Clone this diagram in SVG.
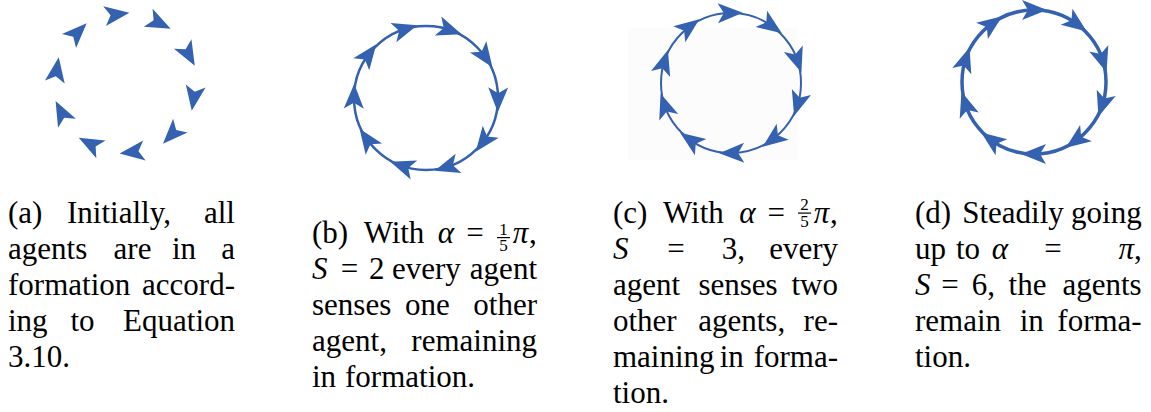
<svg xmlns="http://www.w3.org/2000/svg" width="1151" height="412" viewBox="0 0 1151 412">
<style>
.t{font-family:"Liberation Serif","DejaVu Serif","Times New Roman",serif;font-size:31px;fill:#000}
.i{font-style:italic}
.f{font-size:17px}
.m{text-anchor:middle}
.e{text-anchor:end}
.ring{fill:none;stroke:#3461B0}
.ag{fill:#3461B0}
</style>
<defs>
<path id="dart" d="M13,0 L-12,-10 L-6,0 L-12,10 Z"/>
</defs>
<rect width="1151" height="412" fill="#fff"/>

<g id="panel-a" class="ag">
<use href="#dart" transform="translate(116.5,14.5) rotate(-8)"/>
<use href="#dart" transform="translate(159,23) rotate(26)"/>
<use href="#dart" transform="translate(188.5,54.5) rotate(61)"/>
<use href="#dart" transform="translate(193.8,97.8) rotate(99)"/>
<use href="#dart" transform="translate(172,134.3) rotate(134)"/>
<use href="#dart" transform="translate(132.5,152) rotate(173)"/>
<use href="#dart" transform="translate(90.3,143.8) rotate(207.5)"/>
<use href="#dart" transform="translate(61.5,112.5) rotate(243)"/>
<use href="#dart" transform="translate(56.7,70.2) rotate(-81)"/>
<use href="#dart" transform="translate(77.5,32.5) rotate(-45)"/>
</g>

<g id="panel-b">
<circle class="ring" cx="426" cy="98" r="72" stroke-width="2.5"/>
<g class="ag">
<use href="#dart" transform="translate(498,99.3) rotate(91)"/>
<use href="#dart" transform="translate(483.5,141.3) rotate(127)"/>
<use href="#dart" transform="translate(447.1,166.9) rotate(163)"/>
<use href="#dart" transform="translate(402.6,166.1) rotate(199)"/>
<use href="#dart" transform="translate(367,139.3) rotate(235)"/>
<use href="#dart" transform="translate(354,96.7) rotate(271)"/>
<use href="#dart" transform="translate(368.5,54.7) rotate(307)"/>
<use href="#dart" transform="translate(404.9,29.1) rotate(343)"/>
<use href="#dart" transform="translate(449.4,29.9) rotate(19)"/>
<use href="#dart" transform="translate(485,56.7) rotate(55)"/>
</g>
</g>

<g id="panel-c">
<rect x="628" y="28" width="170" height="132" fill="#fcfcfc"/>
<circle class="ring" cx="731" cy="83" r="70" stroke-width="2"/>
<g class="ag">
<use href="#dart" transform="translate(729.8,13) rotate(359)"/>
<use href="#dart" transform="translate(771.2,25.7) rotate(35)"/>
<use href="#dart" transform="translate(797.2,60.2) rotate(71)"/>
<use href="#dart" transform="translate(797.9,103.5) rotate(107)"/>
<use href="#dart" transform="translate(773.1,138.9) rotate(143)"/>
<use href="#dart" transform="translate(732.2,153) rotate(179)"/>
<use href="#dart" transform="translate(690.8,140.3) rotate(215)"/>
<use href="#dart" transform="translate(664.8,105.8) rotate(251)"/>
<use href="#dart" transform="translate(664.1,62.5) rotate(287)"/>
<use href="#dart" transform="translate(688.9,27.1) rotate(323)"/>
</g>
</g>

<g id="panel-d">
<circle class="ring" cx="1034" cy="82" r="72" stroke-width="3.5"/>
<g class="ag">
<use href="#dart" transform="translate(1034,10) rotate(0)"/>
<use href="#dart" transform="translate(1076.3,23.8) rotate(36)"/>
<use href="#dart" transform="translate(1102.5,59.8) rotate(72)"/>
<use href="#dart" transform="translate(1102.5,104.2) rotate(108)"/>
<use href="#dart" transform="translate(1076.3,140.2) rotate(144)"/>
<use href="#dart" transform="translate(1034,154) rotate(180)"/>
<use href="#dart" transform="translate(991.7,140.2) rotate(216)"/>
<use href="#dart" transform="translate(965.5,104.2) rotate(252)"/>
<use href="#dart" transform="translate(965.5,59.8) rotate(288)"/>
<use href="#dart" transform="translate(991.7,23.8) rotate(324)"/>
</g>
</g>

<g id="caption-a" class="t">
<text x="8" y="223">(a)</text><text class="m" x="119" y="223">Initially,</text><text class="e" x="235" y="223">all</text>
<text x="8" y="259">agents</text><text class="m" x="132.5" y="259">are</text><text class="m" x="184" y="259">in</text><text class="e" x="235" y="259">a</text>
<text x="8" y="295">formation</text><text class="e" x="235" y="295">accord-</text>
<text x="8" y="331">ing</text><text class="m" x="82.5" y="331">to</text><text class="e" x="235" y="331">Equation</text>
<text x="8" y="367">3.10.</text>
</g>

<g id="caption-b" class="t">
<text x="312" y="243">(b)</text><text class="m" x="394" y="243">With</text><text class="m i" x="446" y="243">α</text><text class="m" x="475" y="243">=</text>
<text class="m f" x="503.4" y="234.5">1</text><rect x="497" y="237" width="13" height="1.2" fill="#000"/><text class="m f" x="503.4" y="251">5</text>
<text class="m i" x="520.4" y="243">π</text><text x="529" y="243">,</text>
<text class="i" x="312" y="279">S</text><text class="m" x="349.5" y="279">=</text><text x="369" y="279">2</text><text x="392" y="279">every</text><text class="e" x="537" y="279">agent</text>
<text x="312" y="315">senses</text><text class="m" x="427.5" y="315">one</text><text class="e" x="537" y="315">other</text>
<text x="312" y="351">agent,</text><text class="e" x="537" y="351">remaining</text>
<text x="312" y="387">in</text><text x="345" y="387">formation.</text>
</g>

<g id="caption-c" class="t">
<text x="613" y="223">(c)</text><text class="m" x="693.4" y="223">With</text><text class="m i" x="747.4" y="223">α</text><text class="m" x="776.2" y="223">=</text>
<text class="m f" x="804.4" y="210">2</text><rect x="798" y="212.5" width="13" height="1.2" fill="#000"/><text class="m f" x="804.4" y="227">5</text>
<text class="m i" x="821.4" y="223">π</text><text x="830" y="223">,</text>
<text class="i" x="613" y="259">S</text><text class="m" x="676" y="259">=</text><text x="721.7" y="259">3,</text><text class="e" x="838" y="259">every</text>
<text x="613" y="295">agent</text><text class="m" x="738" y="295">senses</text><text class="e" x="838" y="295">two</text>
<text x="613" y="331">other</text><text class="m" x="741.7" y="331">agents,</text><text class="e" x="838" y="331">re-</text>
<text x="613" y="367">maining</text><text class="m" x="731.7" y="367">in</text><text class="e" x="838" y="367">forma-</text>
<text x="613" y="403">tion.</text>
</g>

<g id="caption-d" class="t">
<text x="915" y="223">(d)</text><text class="m" x="1013" y="223">Steadily</text><text class="e" x="1141.7" y="223">going</text>
<text x="915" y="259">up</text><text class="m" x="968" y="259">to</text><text class="m i" x="1000" y="259">α</text><text class="m" x="1053" y="259">=</text><text class="e" x="1141.7" y="259"><tspan class="i">π</tspan>,</text>
<text class="i" x="915" y="295">S</text><text class="m" x="950" y="295">=</text><text x="971.7" y="295">6,</text><text class="m" x="1027.5" y="295">the</text><text class="e" x="1141.7" y="295">agents</text>
<text x="915" y="331">remain</text><text class="m" x="1031.7" y="331">in</text><text class="e" x="1141.7" y="331">forma-</text>
<text x="915" y="367">tion.</text>
</g>
</svg>
